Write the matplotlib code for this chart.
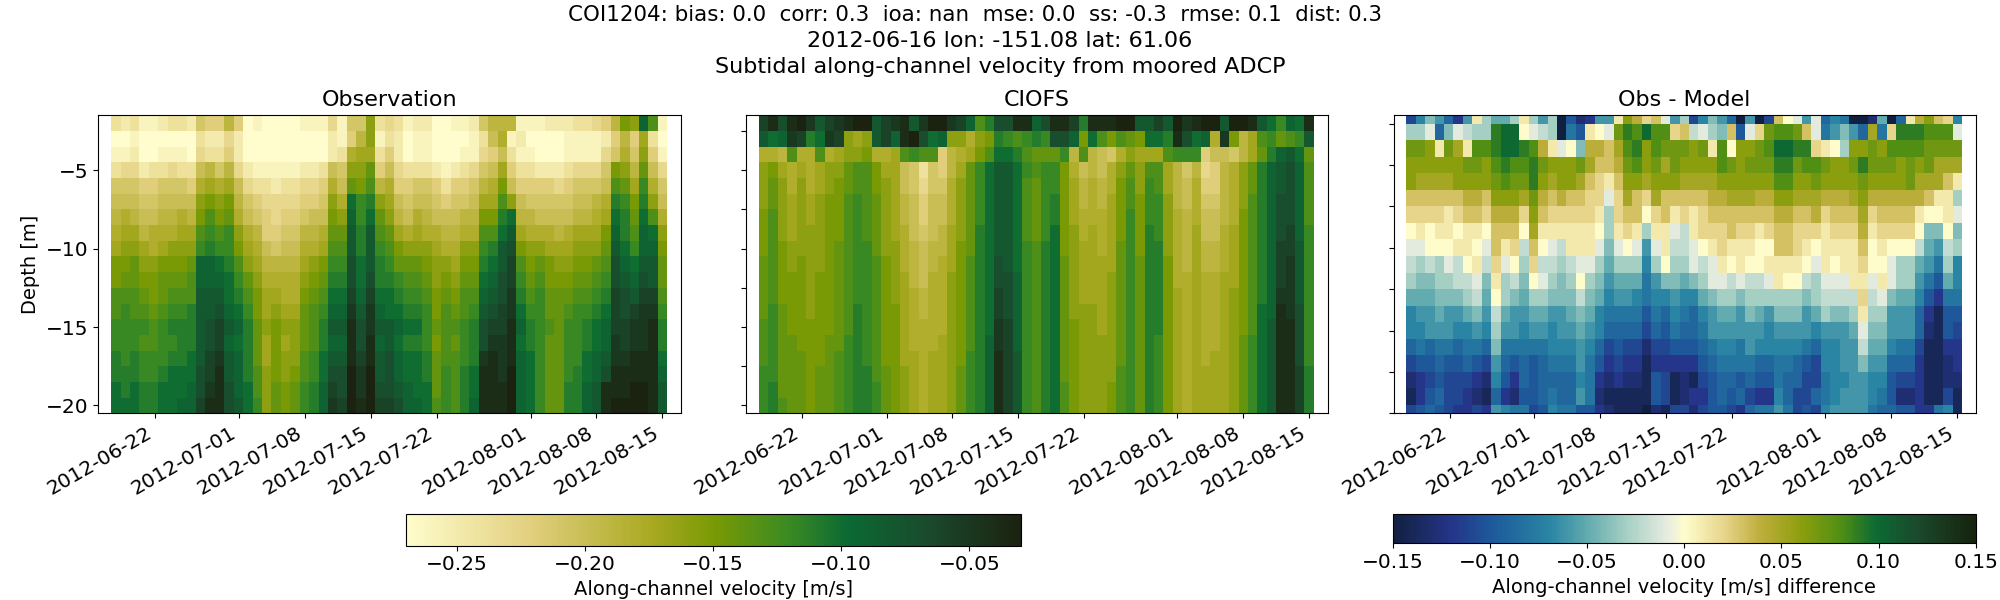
from datetime import datetime

import matplotlib
matplotlib.use("Agg")
import matplotlib.dates as mdates
import matplotlib.pyplot as plt
import numpy as np
from matplotlib.colors import LinearSegmentedColormap

# Depth bins in metres, top to bottom
DEPTHS = list(range(-2, -21, -1))
FIRST_DAY = datetime(2012, 6, 17, 9)
LAST_DAY = datetime(2012, 8, 15, 13)
TICK_DATES = ["2012-06-22", "2012-07-01", "2012-07-08", "2012-07-15",
              "2012-07-22", "2012-08-01", "2012-08-08", "2012-08-15"]

# Velocity by day, one list per day from top bin to bottom bin.
# Observed and modelled are magnitudes in cm/s (all the values are negative), diff is signed cm/s.
OBS = [
    [24,27,26,24,21,20,19,18,17,15,15,13,13,12,12,11,11,10,10],
    [25,27,26,23,21,20,18,17,16,15,14,13,12,12,12,12,11,11,10],
    [24,26,25,23,21,20,19,17,16,14,14,13,13,12,12,11,11,10,10],
    [26,27,27,25,22,21,20,19,17,16,15,14,13,12,13,12,12,11,11],
    [26,27,27,24,22,21,20,18,18,16,15,15,14,13,13,12,12,11,11],
    [25,27,26,24,21,20,19,18,17,15,14,14,13,12,12,12,11,10,10],
    [24,27,26,23,21,20,19,18,16,15,14,13,12,11,12,11,10,10,10],
    [24,27,26,24,21,20,18,17,16,15,14,13,12,11,11,11,10,10,9],
    [25,27,27,24,22,20,19,17,16,14,13,13,11,11,11,10,10,9,9],
    [21,24,23,20,18,16,15,13,12,9,9,8,8,8,8,8,7,7,6],
    [22,25,24,19,17,15,13,12,11,9,9,8,8,7,7,6,6,5,4],
    [22,25,24,21,18,16,15,13,12,10,9,8,7,6,6,5,4,4,4],
    [19,23,22,19,17,15,14,12,12,11,10,10,9,8,9,8,8,7,7],
    [22,25,25,23,20,19,18,16,15,13,12,11,10,9,10,9,9,9,8],
    [27,27,27,25,23,21,20,18,17,16,14,13,12,11,11,11,11,10,10],
    [26,27,27,26,24,22,21,19,18,17,16,15,15,14,14,14,13,13,12],
    [27,27,27,26,24,23,22,22,20,19,18,17,17,16,17,17,16,16,16],
    [27,27,27,26,25,23,23,22,21,19,18,17,16,15,15,15,15,14,14],
    [27,27,27,26,24,23,22,21,20,19,18,18,17,16,17,16,16,15,15],
    [27,27,27,26,24,23,22,21,20,19,18,18,17,16,16,16,15,14,14],
    [26,27,27,25,23,22,21,19,18,17,16,15,14,14,14,13,13,12,12],
    [26,27,27,25,23,22,20,19,18,16,15,14,13,13,13,12,12,11,11],
    [26,27,27,24,22,21,20,18,17,15,14,13,12,11,11,10,10,9,9],
    [23,25,25,20,18,16,15,14,13,12,11,10,9,8,9,8,7,6,5],
    [26,26,24,21,20,18,16,14,13,12,11,10,9,8,9,8,7,7,6],
    [21,22,18,16,14,10,9,8,8,7,7,6,5,4,4,4,3,3,3],
    [21,19,17,16,15,12,12,11,11,10,10,9,8,7,7,6,5,5,4],
    [16,16,17,14,13,11,10,8,8,8,7,6,5,5,4,4,3,3,3],
    [24,26,24,22,19,16,14,13,12,11,11,10,9,8,9,8,8,7,6],
    [23,24,22,20,18,17,16,14,13,12,11,10,10,8,8,7,7,7,6],
    [24,25,25,23,22,20,19,17,15,14,12,11,10,9,10,9,9,8,7],
    [26,27,27,24,22,21,20,18,16,14,13,12,11,10,11,10,10,9,9],
    [25,26,26,24,21,20,18,17,16,14,13,12,11,10,11,10,10,10,9],
    [25,26,26,24,21,20,19,18,16,15,14,13,12,12,12,11,11,10,10],
    [27,27,27,25,22,21,20,18,17,16,16,15,15,14,15,14,14,14,13],
    [27,27,27,26,24,22,20,19,18,16,15,14,13,13,13,13,12,12,12],
    [26,27,27,25,22,21,20,19,18,17,16,15,14,13,14,13,13,13,13],
    [26,27,26,24,22,21,19,18,16,15,14,13,13,12,12,12,11,11,11],
    [25,26,26,23,21,20,19,18,16,15,14,13,12,11,11,11,10,10,9],
    [21,24,23,21,19,17,15,13,12,11,10,9,8,7,7,5,4,4,4],
    [19,20,22,20,18,17,15,13,11,10,9,8,7,6,5,4,4,4,4],
    [19,18,20,17,15,13,11,10,8,8,7,7,6,6,5,5,5,4,4],
    [19,26,24,22,20,16,10,8,7,6,6,5,5,4,4,4,3,3,3],
    [26,25,26,24,22,20,19,17,15,13,12,11,10,9,10,9,9,9,9],
    [26,27,26,24,22,21,19,18,16,15,14,13,12,11,11,10,10,10,10],
    [26,27,27,25,22,21,20,18,16,14,13,12,12,12,12,12,12,12,12],
    [25,27,27,25,22,21,20,18,17,15,15,14,14,13,14,14,14,14,14],
    [25,27,27,25,23,21,20,19,17,16,15,14,14,14,14,14,14,14,14],
    [25,26,26,24,22,21,20,18,17,16,15,14,13,12,12,12,12,11,11],
    [24,26,26,23,21,20,19,17,16,15,14,13,12,12,12,12,11,11,11],
    [24,26,26,23,21,20,19,17,16,15,14,13,12,11,11,10,10,9,9],
    [23,26,26,23,21,19,18,17,16,14,13,12,11,10,10,9,9,8,8],
    [22,25,23,21,20,18,17,15,14,13,12,11,10,9,9,8,7,4,4],
    [19,22,21,15,13,11,10,9,8,7,7,6,6,6,5,5,4,4,3],
    [15,19,18,16,14,12,11,11,10,9,8,7,7,6,6,5,4,4,3],
    [16,22,21,19,17,15,14,13,12,10,9,8,6,5,5,4,4,3,3],
    [9,17,16,14,12,11,10,9,9,8,7,6,5,5,5,4,4,3,3],
    [13,24,22,20,18,16,13,10,9,8,8,6,5,4,4,4,4,4,4],
    [26,27,26,23,21,20,18,16,15,14,14,13,12,11,11,10,9,8,8],
]

MODEL = [
    [6,8,18,16,16,16,15,15,15,14,14,14,14,13,13,13,12,12,12],
    [4,10,18,15,14,14,13,13,13,13,13,13,12,12,12,12,12,11,11],
    [7,9,19,17,16,16,16,16,15,15,15,15,14,14,14,14,14,14,13],
    [4,5,13,18,18,17,17,17,16,16,15,15,15,15,14,14,14,14,14],
    [3,6,18,17,16,16,16,16,16,15,15,15,15,15,15,14,14,14,14],
    [5,11,18,18,18,17,17,16,16,16,16,16,16,15,15,15,15,15,15],
    [8,10,13,17,17,16,16,16,16,16,15,15,15,15,15,15,14,14,14],
    [6,5,18,16,16,15,15,15,15,15,15,15,15,15,14,14,14,14,14],
    [5,6,17,16,15,15,15,15,14,14,14,14,14,14,14,13,13,13,13],
    [4,16,16,14,14,13,13,13,13,13,13,13,13,13,12,12,12,12,12],
    [3,17,16,13,13,12,12,12,12,12,12,12,11,11,11,11,11,11,11],
    [3,16,15,13,13,13,13,13,12,12,12,12,12,12,12,12,11,11,11],
    [8,8,18,15,15,14,14,14,14,13,13,13,13,13,13,13,13,12,12],
    [6,6,18,17,16,16,16,16,16,15,15,15,15,15,15,15,14,14,14],
    [5,9,17,17,17,17,17,17,16,16,16,16,15,15,15,15,15,15,15],
    [4,4,13,20,20,19,19,18,18,18,17,17,17,17,17,17,16,16,16],
    [8,3,12,21,21,20,20,20,19,19,19,18,18,18,18,17,17,17,17],
    [5,7,13,24,23,22,22,21,20,20,20,19,19,18,18,18,18,18,18],
    [3,10,13,21,21,20,20,20,19,19,18,18,18,18,18,17,17,17,17],
    [3,9,22,22,21,20,20,19,19,18,18,18,18,18,17,17,17,17,17],
    [5,16,19,19,18,18,18,17,17,17,16,16,16,16,16,16,16,16,16],
    [6,16,18,17,16,16,16,16,15,15,15,15,15,15,15,15,14,14,14],
    [9,18,17,14,14,14,14,14,14,13,13,13,13,13,13,12,12,12,12],
    [13,16,15,12,12,12,12,11,11,11,11,11,11,11,11,11,11,11,11],
    [11,15,13,10,10,10,10,10,10,10,10,10,10,10,9,9,9,9,9],
    [7,11,10,8,8,8,8,8,8,7,7,6,6,5,5,4,4,4,4],
    [7,12,10,8,8,8,8,8,8,8,7,7,7,6,6,6,6,6,6],
    [4,13,11,10,10,10,10,10,10,10,9,9,9,9,9,8,8,8,8],
    [4,12,13,12,13,13,13,13,12,12,12,12,12,12,12,12,12,12,12],
    [9,11,14,13,14,14,14,14,13,13,13,13,13,13,13,13,13,13,13],
    [7,12,14,12,12,12,12,12,11,11,11,11,11,11,11,11,11,11,11],
    [4,7,14,12,12,11,11,10,10,10,10,10,10,10,10,10,10,10,10],
    [4,7,12,15,15,15,15,15,15,14,14,14,14,14,14,14,14,13,13],
    [6,9,19,18,17,17,17,16,16,16,16,16,16,15,15,15,15,15,15],
    [11,15,13,20,19,19,18,18,17,17,17,17,16,16,16,16,16,16,16],
    [4,10,19,19,18,18,18,17,17,17,17,17,16,16,16,16,16,16,16],
    [4,13,20,20,19,19,18,18,18,17,17,17,17,17,16,16,16,16,16],
    [4,15,21,18,18,17,17,17,17,17,16,16,16,16,16,16,16,15,15],
    [3,13,18,16,15,15,15,15,14,14,14,14,14,14,14,14,13,13,13],
    [3,14,16,14,13,13,12,12,12,12,12,12,12,12,12,12,12,12,12],
    [8,15,17,16,16,15,15,15,15,14,14,14,14,14,14,14,14,14,14],
    [8,10,17,13,12,12,12,11,11,11,11,11,11,11,11,11,11,11,11],
    [6,10,17,13,13,12,12,12,11,11,11,11,11,11,12,12,12,12,12],
    [8,11,13,17,17,16,16,16,16,15,15,15,15,15,15,15,15,15,15],
    [3,4,12,19,19,19,18,18,18,18,18,17,17,17,17,17,17,17,17],
    [5,7,12,21,20,20,19,19,19,19,18,18,18,18,18,18,18,18,18],
    [4,10,12,19,18,18,18,17,17,17,17,17,17,17,17,17,17,17,17],
    [3,9,22,23,22,21,20,20,19,19,18,18,18,18,18,18,17,17,17],
    [3,18,20,22,22,21,20,20,19,19,18,18,18,18,18,17,17,17,17],
    [8,5,20,19,19,19,19,18,18,18,17,17,17,17,17,17,17,17,17],
    [3,15,21,18,18,18,18,17,17,17,17,16,16,16,16,16,16,16,16],
    [3,19,19,16,16,16,15,15,15,15,15,15,15,15,14,14,14,14,14],
    [4,17,17,14,14,13,13,13,13,13,13,13,13,13,12,12,12,12,12],
    [8,13,14,11,11,11,11,11,11,11,11,11,10,10,10,10,10,10,10],
    [10,12,11,9,9,9,9,9,9,9,9,9,9,8,8,8,8,8,8],
    [12,14,9,8,8,7,7,7,6,6,6,5,4,4,4,4,4,4,4],
    [9,13,8,7,7,7,7,6,6,5,5,5,5,4,4,4,4,4,4],
    [10,12,10,9,9,9,9,9,8,8,8,8,7,7,7,7,6,6,6],
    [4,8,14,13,13,13,13,12,12,12,12,12,12,12,12,12,11,11,11],
]

DIFF = [
    [-11,-3,7,6,6,3,2,0,-1,-2,-3,-5,-7,-7,-9,-11,-13,-14,-11],
    [-7,-3,7,6,5,3,2,1,-1,-3,-4,-5,-6,-7,-8,-10,-12,-12,-10],
    [-4,-1,6,6,5,3,2,0,0,-2,-4,-5,-6,-6,-9,-10,-11,-10,-9],
    [-6,-9,1,6,5,3,2,1,0,-3,-3,-4,-5,-6,-8,-9,-10,-9,-10],
    [-9,-4,7,6,5,3,1,1,0,-1,-3,-4,-6,-6,-8,-10,-11,-11,-11],
    [-12,-1,5,6,6,3,2,0,1,-2,-2,-4,-6,-7,-9,-10,-11,-11,-12],
    [-6,-2,1,7,6,4,3,1,1,0,-2,-3,-5,-7,-8,-9,-11,-12,-12],
    [1,-3,8,7,6,4,3,1,0,1,-1,-2,-4,-6,-8,-10,-12,-13,-11],
    [-3,-3,8,6,6,3,2,0,-1,-2,-4,-5,-6,-7,-9,-11,-13,-14,-12],
    [-5,9,9,8,7,6,4,3,3,2,1,0,-2,-3,-4,-6,-7,-9,-6],
    [-5,10,10,9,8,6,4,3,1,-1,-3,-3,-5,-6,-8,-9,-10,-12,-7],
    [-3,10,10,8,7,6,4,3,2,0,-2,-4,-6,-6,-8,-10,-12,-13,-8],
    [1,0,9,8,7,5,2,0,-2,-3,-4,-5,-6,-7,-8,-9,-9,-10,-8],
    [-3,-1,8,9,9,7,6,5,3,2,0,-3,-5,-6,-8,-10,-10,-10,-11],
    [-6,-2,4,7,6,4,3,1,0,-2,-1,-3,-5,-6,-8,-9,-9,-9,-10],
    [-3,-3,1,6,5,3,2,1,-1,-2,-3,-4,-6,-7,-7,-8,-9,-8,-7],
    [-15,-15,-1,6,6,4,2,1,-2,-3,-4,-4,-6,-6,-7,-8,-9,-9,-8],
    [-10,-8,0,6,6,3,2,1,1,-2,-3,-4,-5,-6,-7,-8,-9,-9,-8],
    [-13,-10,-4,7,5,3,2,1,1,-1,0,-2,-4,-5,-6,-6,-7,-6,-10],
    [-12,1,4,5,3,2,2,1,1,-1,-3,-4,-5,-6,-7,-8,-8,-8,-10],
    [-6,0,4,3,2,2,1,0,-1,-3,-4,-5,-7,-7,-9,-10,-12,-13,-12],
    [-6,-1,3,3,1,-1,-3,-3,-4,-5,-6,-7,-8,-9,-11,-12,-13,-14,-13],
    [1,7,5,4,3,2,2,1,-1,-3,-5,-6,-8,-9,-10,-11,-12,-14,-14],
    [6,9,8,7,6,5,3,2,0,-3,-5,-6,-8,-9,-11,-12,-13,-14,-14],
    [4,8,9,8,6,3,3,1,-1,-3,-5,-7,-8,-9,-11,-12,-13,-14,-14],
    [2,10,6,6,5,2,0,-3,-6,-7,-8,-8,-10,-11,-13,-14,-14,-14,-15],
    [3,8,8,7,6,5,2,1,-1,-3,-6,-7,-8,-9,-11,-12,-10,-10,-13],
    [-1,8,7,5,6,3,3,1,1,0,-4,-7,-9,-10,-11,-12,-11,-11,-14],
    [-6,2,7,7,6,3,1,-1,-2,-3,-4,-6,-7,-8,-10,-12,-14,-14,-11],
    [-3,3,7,6,5,3,2,-2,-2,-3,-5,-7,-8,-9,-10,-12,-13,-13,-11],
    [-11,-2,6,6,5,3,1,1,-1,-1,-4,-7,-9,-9,-10,-12,-14,-12,-13],
    [-7,-1,7,6,5,3,2,2,0,-2,-3,-5,-7,-8,-9,-10,-11,-12,-11],
    [-4,-3,1,6,5,4,3,2,1,-1,-1,-4,-6,-6,-8,-9,-10,-10,-10],
    [-6,-4,8,8,6,4,3,2,2,1,-1,-3,-5,-6,-7,-8,-9,-9,-10],
    [-9,3,0,7,6,5,3,3,1,0,-2,-3,-5,-6,-7,-8,-9,-10,-11],
    [-15,-10,6,6,6,5,3,2,1,1,-1,-4,-6,-6,-8,-8,-10,-9,-12],
    [-6,-1,6,7,6,5,3,2,1,0,-2,-3,-4,-6,-6,-8,-9,-11,-9],
    [-15,2,7,7,6,4,3,1,0,0,-2,-3,-5,-6,-7,-9,-10,-12,-8],
    [-11,7,8,7,6,4,3,2,0,1,-1,-3,-6,-7,-7,-9,-10,-12,-8],
    [3,8,10,9,8,6,4,3,3,1,1,-3,-4,-6,-7,-8,-8,-7,-6],
    [0,8,10,9,8,6,4,3,3,1,0,-3,-4,-6,-7,-8,-9,-9,-8],
    [-1,7,9,7,6,5,3,2,2,1,0,-3,-4,-6,-7,-9,-9,-11,-11],
    [-6,3,9,8,6,5,3,2,1,0,-2,-4,-6,-6,-8,-10,-11,-11,-10],
    [-1,-1,2,8,7,5,4,2,0,-1,-3,-3,-5,-7,-9,-11,-11,-9,-11],
    [-9,-8,1,7,6,4,2,1,1,1,-1,-2,-3,-6,-7,-7,-8,-8,-7],
    [-7,-6,0,6,6,4,3,2,1,0,-1,-2,-4,-6,-7,-7,-7,-7,-6],
    [-8,-4,-3,6,6,4,3,2,1,1,-1,-2,-4,-6,-6,-6,-7,-6,-6],
    [-15,-6,6,7,6,5,3,2,1,1,1,-2,-3,-5,-6,-6,-6,-6,-6],
    [-15,-9,6,9,7,6,5,4,3,2,1,2,1,-1,-2,-4,-6,-6,-6],
    [-13,5,7,7,6,4,2,1,0,0,-1,-2,-3,-4,-5,-6,-7,-7,-8],
    [-5,-8,6,7,6,4,3,2,1,0,1,-1,-3,-4,-5,-6,-7,-8,-9],
    [-15,2,8,7,6,4,3,2,0,-1,-1,-4,-6,-6,-7,-9,-10,-10,-9],
    [-9,9,8,6,6,4,3,2,0,-3,-3,-5,-6,-6,-8,-9,-11,-13,-10],
    [1,9,8,7,7,4,3,2,0,-3,-3,-5,-6,-6,-8,-9,-11,-13,-10],
    [4,9,8,6,5,4,1,0,-2,-5,-6,-7,-9,-9,-11,-12,-12,-12,-12],
    [6,8,7,7,5,3,0,-4,-5,-6,-8,-10,-12,-13,-14,-14,-14,-14,-12],
    [3,8,7,5,5,1,0,-4,-6,-8,-10,-12,-14,-14,-14,-14,-14,-14,-8],
    [2,8,7,5,3,1,1,0,-2,-3,-5,-8,-10,-10,-12,-13,-13,-11,-7],
    [-7,-1,7,5,1,-3,-1,-4,-3,-7,-7,-8,-10,-11,-12,-12,-13,-14,-14],
]

# Rough copies of the cmocean speed and delta maps, cmocean is not available here
speed_cmap = LinearSegmentedColormap.from_list("speed", [
    (0.0, "#fffdcd"), (0.2, "#e2d07f"), (0.4, "#a9a921"), (0.5, "#7a9a05"),
    (0.62, "#3c8b22"), (0.72, "#0b6a33"), (0.85, "#1a4a2c"), (1.0, "#1b2210")])
delta_cmap = LinearSegmentedColormap.from_list("delta", [
    (0.0, "#112040"), (0.1, "#25358a"), (0.17, "#1d5a9b"), (0.27, "#2a86a5"),
    (0.33, "#5fa9ad"), (0.4, "#a6cfc4"), (0.47, "#e6ece0"), (0.5, "#fffdcd"),
    (0.57, "#e6d48a"), (0.63, "#bfae3c"), (0.7, "#8d9f0e"), (0.77, "#4f8f14"),
    (0.83, "#0c6a33"), (0.9, "#1a4a2c"), (1.0, "#17230d")])

W, H = 2000, 600


def pixel_axes(fig, left, top, right, bottom):
    """Adds axes from a box given in pixels, measured from the top left corner."""
    return fig.add_axes([left / W, 1 - bottom / H, (right - left) / W, (bottom - top) / H])


fig = plt.figure(figsize=(20, 6), dpi=100)
fig.text(975 / W, 1 - 15 / H,
         "COI1204: bias: 0.0  corr: 0.3  ioa: nan  mse: 0.0  ss: -0.3  rmse: 0.1  dist: 0.3",
         ha="center", va="center", fontsize=15.4)
fig.text(1000 / W, 1 - 41 / H, "2012-06-16 lon: -151.08 lat: 61.06",
         ha="center", va="center", fontsize=16)
fig.text(1000 / W, 1 - 67 / H, "Subtidal along-channel velocity from moored ADCP",
         ha="center", va="center", fontsize=16)

x_edges = np.linspace(mdates.date2num(FIRST_DAY), mdates.date2num(LAST_DAY), len(OBS) + 1)
depth_edges = np.array(DEPTHS + [DEPTHS[-1] - 1]) + 0.5
ticks = mdates.date2num([datetime.strptime(d, "%Y-%m-%d") for d in TICK_DATES])

ax_obs = pixel_axes(fig, 98.3, 115.3, 681, 413.3)
ax_model = pixel_axes(fig, 746, 115.3, 1327.5, 413.3)
ax_diff = pixel_axes(fig, 1393.5, 115.3, 1975.7, 413.3)

obs_mesh = ax_obs.pcolormesh(x_edges, depth_edges, -np.array(OBS).T / 100, cmap=speed_cmap,
                             vmin=-0.27, vmax=-0.03, shading="flat")
ax_model.pcolormesh(x_edges, depth_edges, -np.array(MODEL).T / 100, cmap=speed_cmap,
                    vmin=-0.27, vmax=-0.03, shading="flat")
diff_mesh = ax_diff.pcolormesh(x_edges, np.clip(depth_edges, -20, -2), np.array(DIFF).T / 100,
                               cmap=delta_cmap, vmin=-0.15, vmax=0.15, shading="flat")

for ax, title in zip([ax_obs, ax_model, ax_diff], ["Observation", "CIOFS", "Obs - Model"]):
    ax.set_title(title, fontsize=16, pad=7)
    ax.set_xlim(mdates.date2num(datetime(2012, 6, 16)), mdates.date2num(datetime(2012, 8, 17)))
    ax.set_xticks(ticks)
    ax.xaxis.set_major_formatter(mdates.DateFormatter("%Y-%m-%d"))
    ax.tick_params(labelsize=14.5)
    plt.setp(ax.get_xticklabels(), rotation=30, ha="right")

ax_obs.set_ylim(-20.5, -1.5)
ax_obs.set_yticks([-5, -10, -15, -20])
ax_obs.set_ylabel("Depth [m]", fontsize=14)

ax_model.set_ylim(-20.5, -1.5)
ax_model.set_yticks(np.arange(-20, -2, 2.5))
ax_model.set_yticklabels([])

ax_diff.set_ylim(-20, -2)
ax_diff.set_yticks(np.arange(-20, -2, 2.5))
ax_diff.set_yticklabels([])

cax_obs = pixel_axes(fig, 405.6, 514, 1020.5, 545.5)
cb_obs = fig.colorbar(obs_mesh, cax=cax_obs, orientation="horizontal")
cb_obs.set_ticks([-0.25, -0.20, -0.15, -0.10, -0.05])
cb_obs.ax.tick_params(labelsize=14.5)
cb_obs.set_label("Along-channel velocity [m/s]", fontsize=14)

cax_diff = pixel_axes(fig, 1393, 514, 1975.7, 543.3)
cb_diff = fig.colorbar(diff_mesh, cax=cax_diff, orientation="horizontal")
cb_diff.set_ticks([-0.15, -0.10, -0.05, 0.0, 0.05, 0.10, 0.15])
cb_diff.ax.tick_params(labelsize=14.5)
cb_diff.set_label("Along-channel velocity [m/s] difference", fontsize=14)

fig.savefig("out.png", dpi=100)
plt.close(fig)
